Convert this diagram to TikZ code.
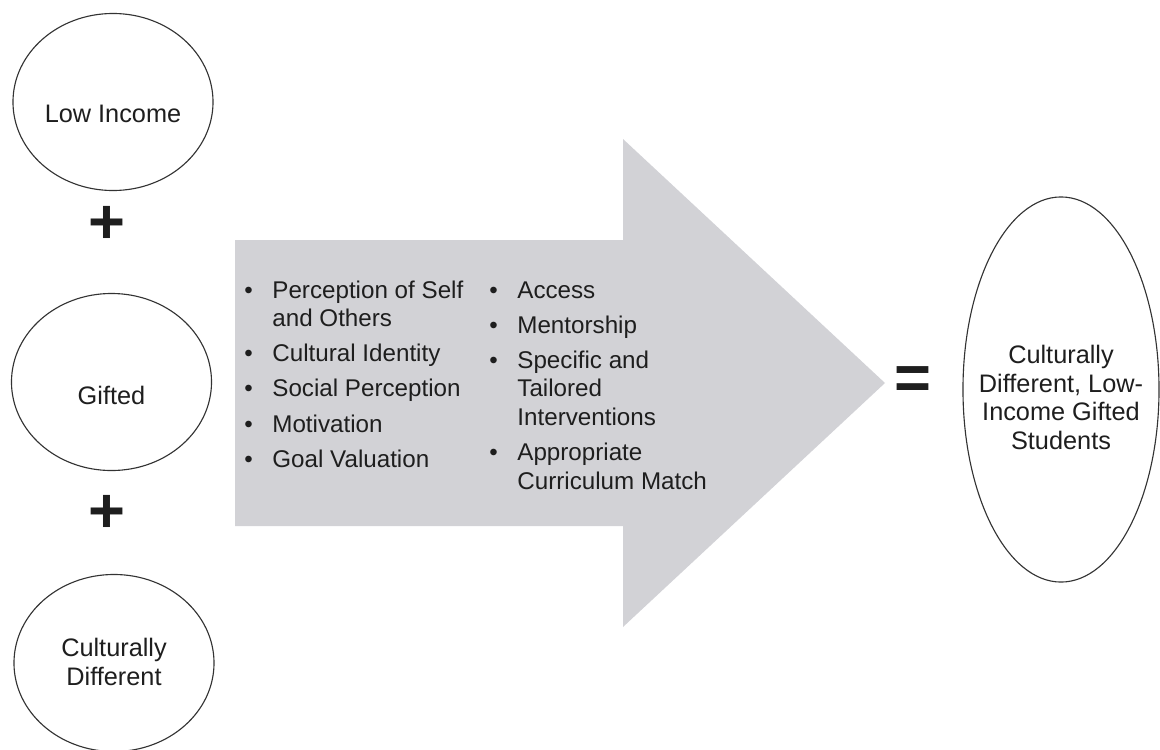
\documentclass[tikz,border=0pt]{standalone}
\usepackage{fontspec}
\setmainfont{Liberation Sans}
\usetikzlibrary{shapes.geometric}

\begin{document}
\begin{tikzpicture}[x=0.025cm,y=-0.025cm,
  oval/.style={draw=cg_line,line width=0.8pt,ellipse,minimum width=5cm,minimum height=4.425cm},
  oval_txt/.style={text=cg_text,font=\fontsize{18}{20.3}\selectfont,align=center,inner sep=0pt},
  op_sign/.style={text=cg_text,font=\fontsize{45}{45}\selectfont\bfseries,inner sep=0pt},
  list_txt/.style={text=cg_text,font=\fontsize{17.2}{20.6}\selectfont,inner sep=0pt,anchor=base west}]

% ------------------------------------------------ colors
\definecolor{cg_gray}{RGB}{210,210,214} %#D2D2D6
\definecolor{cg_line}{RGB}{51,51,51}    %#333333
\definecolor{cg_text}{RGB}{30,30,30}    %#1E1E1E

\useasboundingbox (0,0) rectangle (1160,750);

% big arrow
\fill[cg_gray] (235,240) -- (623,240) -- (623,139) -- (885,383) -- (623,627) -- (623,526) -- (235,526) -- cycle;

% the three inputs
\node[oval] (low) at (113,102) {};
\node[oval] (gifted) at (111.5,382) {};
\node[oval] (culture) at (114,663) {};
\node[oval_txt] (low_txt) at (113,114) {Low Income};
\node[oval_txt] (gifted_txt) at (111.5,395) {Gifted};
\node[oval_txt] (culture_txt) at (114,662) {Culturally\\Different};

\node[op_sign] (plus_a) at (107,225) {+};
\node[op_sign] (plus_b) at (107,514) {+};

% lists inside the arrow
\node[list_txt] (list_a) at (244,298) {\begin{tabular}[t]{@{}p{20pt}@{}l@{}}
  \textbullet & Perception of Self\\
              & and Others\\[4.3pt]
  \textbullet & Cultural Identity\\[4.3pt]
  \textbullet & Social Perception\\[4.3pt]
  \textbullet & Motivation\\[4.3pt]
  \textbullet & Goal Valuation
\end{tabular}};
\node[list_txt] (list_b) at (489,298) {\begin{tabular}[t]{@{}p{20pt}@{}l@{}}
  \textbullet & Access\\[4.3pt]
  \textbullet & Mentorship\\[4.3pt]
  \textbullet & Specific and\\
              & Tailored\\
              & Interventions\\[4.3pt]
  \textbullet & Appropriate\\
              & Curriculum Match
\end{tabular}};

% result
\node[op_sign] (equals) at (913,383.5) {=};
\node[oval,minimum width=4.9cm,minimum height=9.625cm] (result) at (1061,389.5) {};
\node[oval_txt] (result_txt) at (1061,397.5) {Culturally\\Different, Low-\\Income Gifted\\Students};

\end{tikzpicture}
\end{document}
